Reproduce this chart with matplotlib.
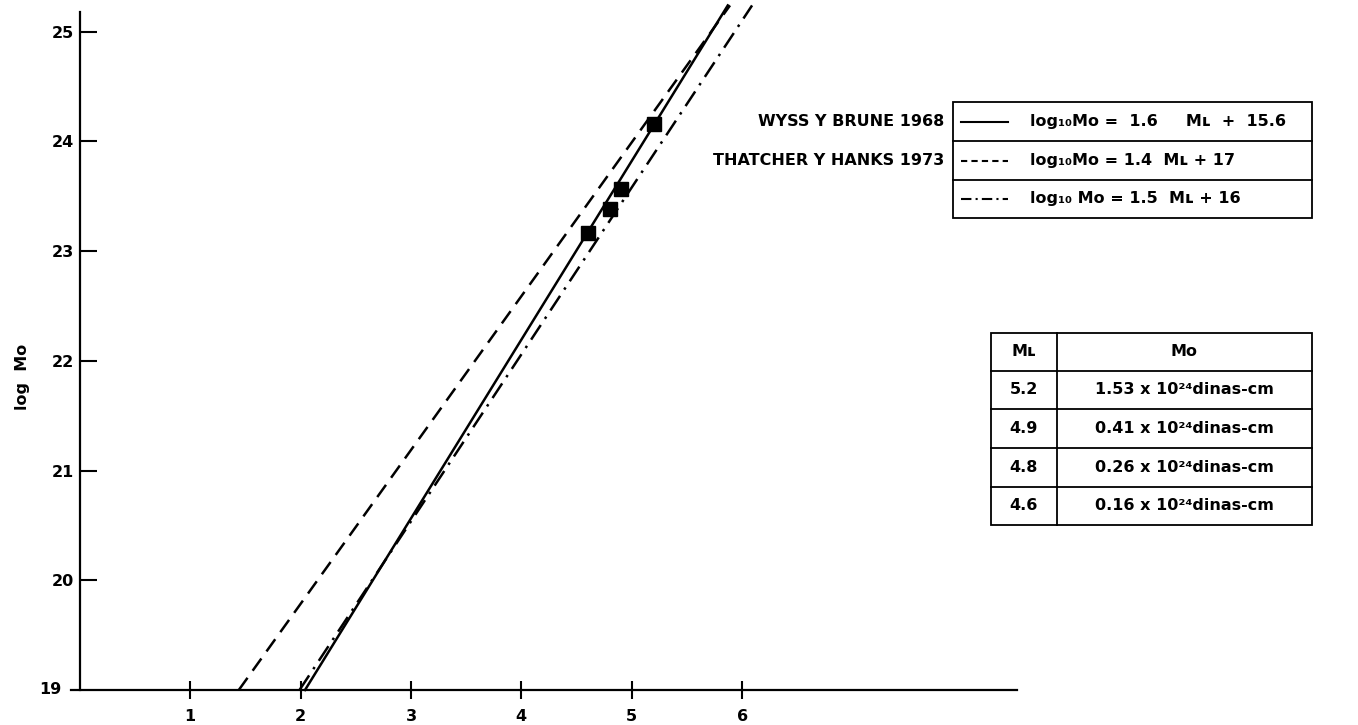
import matplotlib
matplotlib.use('Agg')
import matplotlib.pyplot as plt
from matplotlib.patches import Rectangle
from matplotlib.lines import Line2D

W, H = 1358, 725

# values
ml_points = [4.6, 4.8, 4.9, 5.2]
logmo_points = [23.17, 23.38, 23.57, 24.16]

# end points of the three fitted lines (ML, log Mo)
wyss_ml = [2.04, 5.87]
wyss_logmo = [19.0, 25.24]
thatcher_ml = [1.44, 5.89]
thatcher_logmo = [19.0, 25.24]
third_ml = [1.99, 6.09]
third_logmo = [19.0, 25.24]

xticks = [1, 2, 3, 4, 5, 6]
yticks = [20, 21, 22, 23, 24, 25]

legend_names = ['WYSS Y BRUNE 1968', 'THATCHER Y HANKS 1973', '']
legend_eqs = ['log\u2081\u2080M\u1d0f =  1.6     M\u029f  +  15.6',
              'log\u2081\u2080M\u1d0f = 1.4  M\u029f + 17',
              'log\u2081\u2080 M\u1d0f = 1.5  M\u029f + 16']

table_ml = ['5.2', '4.9', '4.8', '4.6']
table_mo = ['1.53', '0.41', '0.26', '0.16']

FONT = dict(family='DejaVu Sans', weight='bold', size=11.5)
LW = 1.8
DASHED = (0, (6, 3.5))
DASHDOT = (0, (7, 3, 1, 3))


def fx(x):
    return x / W


def fy(y):
    return 1 - y / H


fig = plt.figure(figsize=(W / 100, H / 100), dpi=100)
ax = fig.add_axes([fx(71), fy(690), (1017 - 71) / W, (690 - 12) / H])

ax.plot(wyss_ml, wyss_logmo, color='black', lw=LW, clip_on=False)
ax.plot(thatcher_ml, thatcher_logmo, color='black', lw=LW, ls=DASHED, clip_on=False)
ax.plot(third_ml, third_logmo, color='black', lw=LW, ls=DASHDOT, clip_on=False)
ax.plot(ml_points, logmo_points, 's', color='black', ms=9.5, clip_on=False)

ax.set_xlim(-0.08, 8.49)
ax.set_ylim(19, 25.18)
for s in ['top', 'right']:
    ax.spines[s].set_visible(False)
ax.spines['left'].set_position(('data', 0))
for s in ['left', 'bottom']:
    ax.spines[s].set_linewidth(1.6)

ax.set_xticks(xticks)
ax.set_xticklabels([str(t) for t in xticks], **FONT)
ax.set_yticks(yticks)
ax.set_yticklabels([str(t) for t in yticks], **FONT)
ax.tick_params(axis='x', direction='inout', length=13, width=1.5, pad=7)
ax.tick_params(axis='y', direction='in', length=12, width=1.5, pad=4)
ax.text(-0.17, 19, '19', ha='right', va='center', **FONT)

fig.text(fx(22), fy(377), 'log  M\u1d0f', rotation=90, ha='center', va='center', **FONT)

# legend box
lx0, lx1 = 953, 1312
rows = [102, 141, 180, 218]
fig.add_artist(Rectangle((fx(lx0), fy(rows[-1])), (lx1 - lx0) / W, (rows[-1] - rows[0]) / H,
                         transform=fig.transFigure, fill=False, lw=1.3, color='black'))
for r in rows[1:-1]:
    fig.add_artist(Line2D([fx(lx0), fx(lx1)], [fy(r), fy(r)], color='black', lw=1.3))
styles = ['-', (0, (3, 2)), (0, (5, 2, 1, 2))]
for i in range(3):
    yc = (rows[i] + rows[i + 1]) / 2
    if legend_names[i]:
        fig.text(fx(944), fy(yc), legend_names[i], ha='right', va='center', **FONT)
    fig.add_artist(Line2D([fx(961), fx(1008)], [fy(yc), fy(yc)], color='black', lw=1.5, ls=styles[i]))
    fig.text(fx(1030), fy(yc), legend_eqs[i], ha='left', va='center', **FONT)

# table
tx0, tx1, tdiv = 991, 1312, 1057
trows = [333, 371, 409, 448, 487, 525]
fig.add_artist(Rectangle((fx(tx0), fy(trows[-1])), (tx1 - tx0) / W, (trows[-1] - trows[0]) / H,
                         transform=fig.transFigure, fill=False, lw=1.3, color='black'))
for r in trows[1:-1]:
    fig.add_artist(Line2D([fx(tx0), fx(tx1)], [fy(r), fy(r)], color='black', lw=1.3))
fig.add_artist(Line2D([fx(tdiv), fx(tdiv)], [fy(trows[0]), fy(trows[-1])], color='black', lw=1.3))

c1 = (tx0 + tdiv) / 2
c2 = (tdiv + tx1) / 2
yc = (trows[0] + trows[1]) / 2
fig.text(fx(c1), fy(yc), 'M\u029f', ha='center', va='center', **FONT)
fig.text(fx(c2), fy(yc), 'M\u1d0f', ha='center', va='center', **FONT)
for i in range(len(table_ml)):
    yc = (trows[i + 1] + trows[i + 2]) / 2
    fig.text(fx(c1), fy(yc), table_ml[i], ha='center', va='center', **FONT)
    fig.text(fx(c2), fy(yc), table_mo[i] + ' x 10\u00b2\u2074dinas-cm', ha='center', va='center', **FONT)

fig.savefig('out.png', dpi=100)
